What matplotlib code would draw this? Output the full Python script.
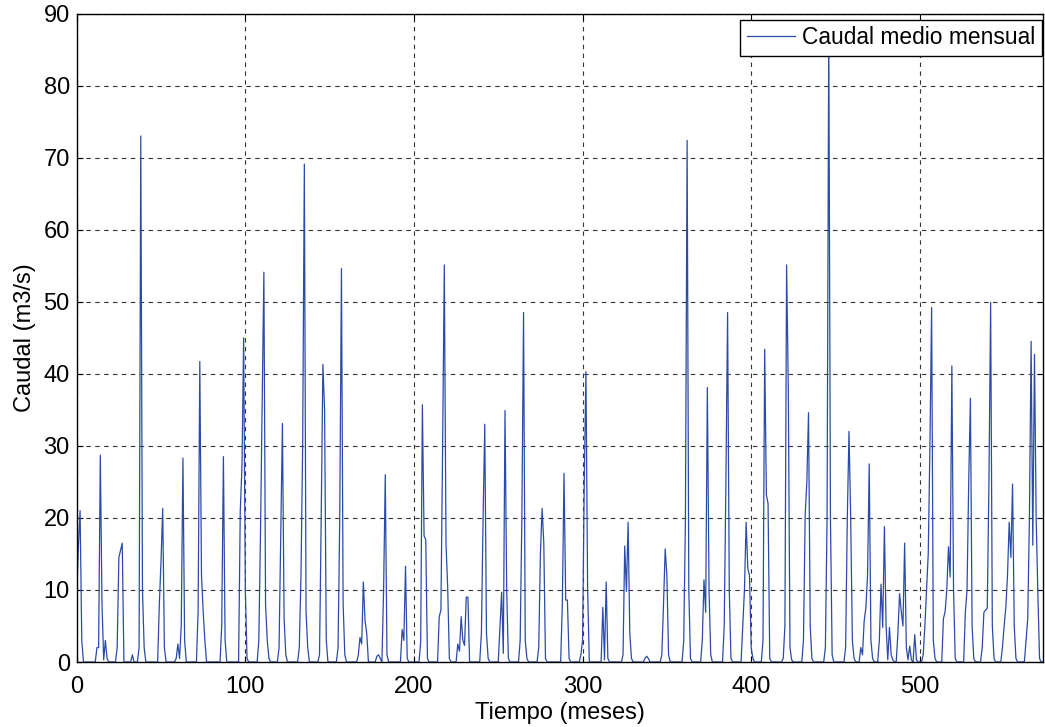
import numpy as np
import matplotlib.pyplot as plt

plt.rcParams['font.family'] = ['Liberation Sans', 'DejaVu Sans']

n_meses = 574

# meses con caudal distinto de cero (el resto vale 0)
meses = [0, 1, 2, 3, 12, 13, 14, 15, 16, 17, 18,
         24, 25, 26, 27, 33, 37, 38, 39, 40,
         49, 50, 51, 52, 59, 60, 61, 62, 63, 64,
         72, 73, 74, 75, 76, 86, 87, 88, 97, 98, 99, 100, 101,
         108, 109, 110, 111, 112, 113, 114, 120, 121, 122, 123, 124,
         132, 133, 134, 135, 136, 137, 144, 145, 146, 147, 148,
         155, 156, 157, 158, 159, 167, 168, 169, 170, 171, 172,
         178, 179, 180, 182, 183, 184, 193, 194, 195, 196,
         204, 205, 206, 207, 208, 215, 216, 217, 218, 219, 220, 221,
         226, 227, 228, 229, 230, 231, 232, 240, 241, 242, 243, 244,
         251, 252, 253, 254, 255, 256, 263, 264, 265, 266, 267,
         274, 275, 276, 277, 278, 288, 289, 290, 291, 292,
         299, 300, 301, 302, 303,
         312, 313, 314, 315, 324, 325, 326, 327, 328, 329,
         337, 338, 339, 347, 348, 349, 350, 351,
         360, 361, 362, 363, 364, 371, 372, 373, 374, 375, 376,
         384, 385, 386, 387, 388, 395, 396, 397, 398, 399, 400, 401,
         407, 408, 409, 410, 411, 419, 420, 421, 422, 423, 424,
         431, 432, 433, 434, 435, 436, 444, 445, 446, 447, 448,
         456, 457, 458, 459, 460, 461, 465, 466, 467, 468, 469, 470, 471, 472,
         476, 477, 478, 479, 480, 481, 482, 483, 484,
         487, 488, 489, 490, 491, 492, 493, 494, 495, 497, 498,
         502, 503, 504, 505, 506, 507, 508, 509,
         514, 515, 516, 517, 518, 519, 520, 521,
         527, 528, 529, 530, 531, 532,
         537, 538, 539, 540, 541, 542, 543, 544,
         549, 550, 551, 552, 553, 554, 555, 556, 557,
         563, 564, 565, 566, 567, 568, 569, 570, 571]

caudal = [9, 16, 21, 3, 2, 2, 28.7, 8, 0.3, 3, 0.5,
          2, 14.5, 15.5, 16.5, 1, 2, 73, 10, 2,
          8, 14, 21.3, 2, 0.5, 2.5, 0.5, 5, 28.3, 3,
          7, 41.7, 12, 7, 3, 5, 28.5, 3, 21, 27, 45, 10, 0.5,
          3, 18, 36, 54.1, 8, 3, 0.5, 2, 18, 33.1, 6, 1,
          2, 12, 30, 69.1, 7, 2, 1, 20, 41.3, 35, 3,
          2, 20, 54.6, 8, 1, 1, 3.4, 2.5, 11.1, 5.7, 4,
          0.8, 1, 0.5, 10, 26, 1, 4.5, 3, 13.3, 0.5,
          2.8, 35.7, 17.5, 17, 0.5, 6.3, 7.2, 30, 55.1, 16.5, 10.4, 0.5,
          2.5, 1.5, 6.3, 3, 2.3, 9, 9, 4, 20, 33, 4, 0.5,
          5, 9.7, 1.2, 34.9, 10, 0.5, 3, 20, 48.5, 3, 0.5,
          2, 15, 21.3, 16.5, 0.5, 8, 26.2, 8.6, 8.6, 0.5,
          1, 3, 25, 40.3, 10,
          7.6, 0.3, 11.1, 0.5, 1, 16.1, 9.8, 19.4, 4, 0.5,
          0.5, 0.8, 0.5, 1, 8, 15.7, 12, 1,
          3, 20, 72.4, 10, 0.5, 3, 11.4, 6.9, 38.1, 10, 1,
          5, 25, 48.5, 10, 0.5, 5, 10, 19.4, 13, 12, 2, 0.5,
          3, 43.4, 23.2, 22, 0.5, 0.5, 5, 55.1, 38, 2, 0.3,
          3, 20.3, 25, 34.6, 5, 0.5, 2, 20, 88, 20, 1,
          2, 20, 32, 20, 3, 0.5, 2, 1, 5.7, 7.5, 12, 27.5, 3, 0.5,
          3, 10.8, 4.8, 18.8, 5, 0.3, 4.8, 1, 0.3,
          4, 9.5, 7, 5, 16.5, 2, 0.3, 2.2, 0.3, 3.8, 0.3,
          1, 5, 10, 15, 30, 49.2, 3, 0.5,
          6, 7, 10, 16, 11.8, 41.1, 10, 0.5,
          6.9, 10, 25, 36.6, 5, 0.5,
          2, 6.9, 7.2, 7.5, 25, 49.9, 5, 0.5,
          2, 5, 7.5, 12, 19.4, 14.5, 24.7, 5, 0.5,
          3, 6, 20, 44.5, 16.2, 42.7, 20, 9.5, 0.5]

serie = np.zeros(n_meses)
serie[meses] = caudal
t = np.arange(n_meses)

fig = plt.figure(figsize=(10.45, 7.27), dpi=100)
ax = fig.add_axes([0.0734, 0.0894, 0.9246, 0.892])

ax.plot(t, serie, color='#2b4ba8', lw=0.9, label='Caudal medio mensual')

ax.set_xlim(0, n_meses - 1)
ax.set_ylim(0, 90)
ax.set_xticks(np.arange(0, 501, 100))
ax.set_yticks(np.arange(0, 91, 10))
ax.grid(True, color='#333333', linestyle=(0, (4, 4)), lw=0.8)
ax.tick_params(direction='in', length=4, top=True, right=True, labelsize=17)
ax.tick_params(axis='x', pad=10)
ax.tick_params(axis='y', pad=5)
for s in ax.spines.values():
    s.set_linewidth(1.0)

ax.set_xlabel('Tiempo (meses)', fontsize=17, labelpad=3)
ax.set_ylabel('Caudal (m3/s)', fontsize=17, labelpad=5)

leg = ax.legend(loc='upper right', bbox_to_anchor=(0.999, 0.9907),
                borderaxespad=0, fontsize=16.4, fancybox=False, framealpha=1,
                edgecolor='black', handlelength=2.1, handletextpad=0.3,
                borderpad=0.3)
leg.get_frame().set_linewidth(1.0)

fig.savefig('out.png', dpi=100)
